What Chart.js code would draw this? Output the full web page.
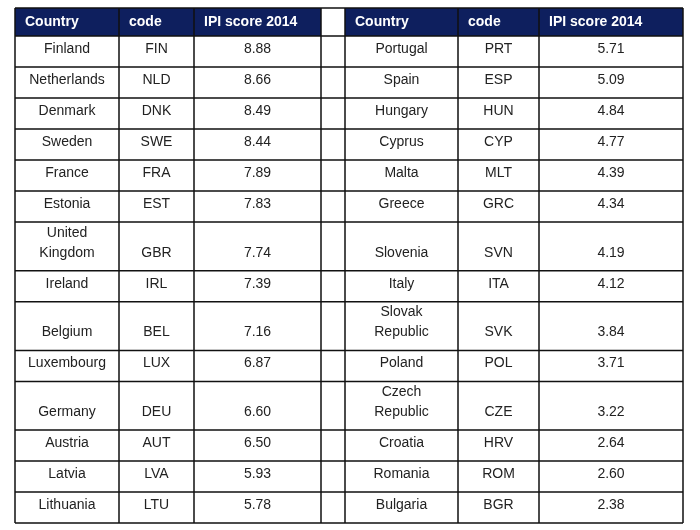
<!DOCTYPE html>
<html>
<head>
<meta charset="utf-8">
<script src="https://cdn.jsdelivr.net/npm/chart.js@4.4.0/dist/chart.umd.min.js"></script>
<style>
  html, body { margin: 0; padding: 0; background: #fff; }
  canvas { display: block; }
</style>
</head>
<body>
<canvas id="table" width="700" height="530"></canvas>
<script>
// data
const headers = ["Country", "code", "IPI score 2014"];

const countriesLeft = ["Finland", "Netherlands", "Denmark", "Sweden", "France", "Estonia",
  "United\nKingdom", "Ireland", "Belgium", "Luxembourg", "Germany", "Austria", "Latvia", "Lithuania"];
const codesLeft = ["FIN", "NLD", "DNK", "SWE", "FRA", "EST", "GBR", "IRL", "BEL", "LUX", "DEU", "AUT", "LVA", "LTU"];
const scoresLeft = [8.88, 8.66, 8.49, 8.44, 7.89, 7.83, 7.74, 7.39, 7.16, 6.87, 6.60, 6.50, 5.93, 5.78];

const countriesRight = ["Portugal", "Spain", "Hungary", "Cyprus", "Malta", "Greece", "Slovenia", "Italy",
  "Slovak\nRepublic", "Poland", "Czech\nRepublic", "Croatia", "Romania", "Bulgaria"];
const codesRight = ["PRT", "ESP", "HUN", "CYP", "MLT", "GRC", "SVN", "ITA", "SVK", "POL", "CZE", "HRV", "ROM", "BGR"];
const scoresRight = [5.71, 5.09, 4.84, 4.77, 4.39, 4.34, 4.19, 4.12, 3.84, 3.71, 3.22, 2.64, 2.60, 2.38];

// layout (in scale units, which map 1:1 onto the page)
const colEdges = [15, 119, 194, 321, 345, 458, 539, 683];
const tableTop = 8;
const headerH = 28;
const rowH = 31;
const extraLineH = 17.7;
const textFromBottom = 18;
const lineGap = 20;

const headerColor = "#0e1f5e";
const textColor = "#222";
const borderColor = "#111";
const font = "Liberation Sans, Arial, sans-serif";

// row edges from how many text lines a row needs
const rowEdges = [tableTop, tableTop + headerH];
countriesLeft.forEach((c, i) => {
  const lines = Math.max(c.split("\n").length, countriesRight[i].split("\n").length);
  rowEdges.push(rowEdges[rowEdges.length - 1] + rowH + (lines - 1) * extraLineH);
});

const tablePlugin = {
  id: "tablePlugin",
  afterDraw(chart) {
    const ctx = chart.ctx;
    const xs = chart.scales.x;
    const ys = chart.scales.y;
    const px = (v) => xs.getPixelForValue(v);
    const py = (v) => ys.getPixelForValue(v);

    ctx.save();

    // header background (gap column stays white)
    ctx.fillStyle = headerColor;
    [[0, 3], [4, 7]].forEach(([a, b]) => {
      ctx.fillRect(px(colEdges[a]), py(rowEdges[0]), px(colEdges[b]) - px(colEdges[a]),
        py(rowEdges[1]) - py(rowEdges[0]));
    });

    // header text
    ctx.fillStyle = "#fff";
    ctx.font = "bold 14px " + font;
    ctx.textAlign = "left";
    ctx.textBaseline = "middle";
    const headY = py((rowEdges[0] + rowEdges[1]) / 2);
    [0, 4].forEach((start) => {
      headers.forEach((h, j) => {
        ctx.fillText(h, px(colEdges[start + j]) + 10, headY);
      });
    });

    // body text
    ctx.fillStyle = textColor;
    ctx.font = "14px " + font;
    ctx.textAlign = "center";
    const halves = [
      [0, countriesLeft, codesLeft, scoresLeft],
      [4, countriesRight, codesRight, scoresRight],
    ];
    halves.forEach(([start, countries, codes, scores]) => {
      countries.forEach((c, i) => {
        const bottom = rowEdges[i + 2];
        const baseY = bottom - textFromBottom;
        const cells = [c, codes[i], scores[i].toFixed(2)];
        cells.forEach((txt, j) => {
          const cx = px((colEdges[start + j] + colEdges[start + j + 1]) / 2);
          const lines = txt.split("\n");
          lines.forEach((ln, k) => {
            const y = baseY - (lines.length - 1 - k) * lineGap;
            ctx.fillText(ln, cx, py(y));
          });
        });
      });
    });

    // grid lines
    ctx.strokeStyle = borderColor;
    ctx.lineWidth = 1.5;
    ctx.beginPath();
    rowEdges.forEach((r) => {
      ctx.moveTo(px(colEdges[0]), py(r));
      ctx.lineTo(px(colEdges[colEdges.length - 1]), py(r));
    });
    colEdges.forEach((c) => {
      ctx.moveTo(px(c), py(rowEdges[0]));
      ctx.lineTo(px(c), py(rowEdges[rowEdges.length - 1]));
    });
    ctx.stroke();

    ctx.restore();
  },
};

new Chart(document.getElementById("table"), {
  type: "scatter",
  data: { datasets: [] },
  options: {
    responsive: false,
    animation: false,
    devicePixelRatio: 1,
    layout: { padding: 0 },
    plugins: { legend: { display: false }, tooltip: { enabled: false } },
    scales: {
      x: { type: "linear", min: 0, max: 700, display: false },
      y: { type: "linear", min: 0, max: 530, reverse: true, display: false },
    },
  },
  plugins: [tablePlugin],
});
</script>
</body>
</html>
